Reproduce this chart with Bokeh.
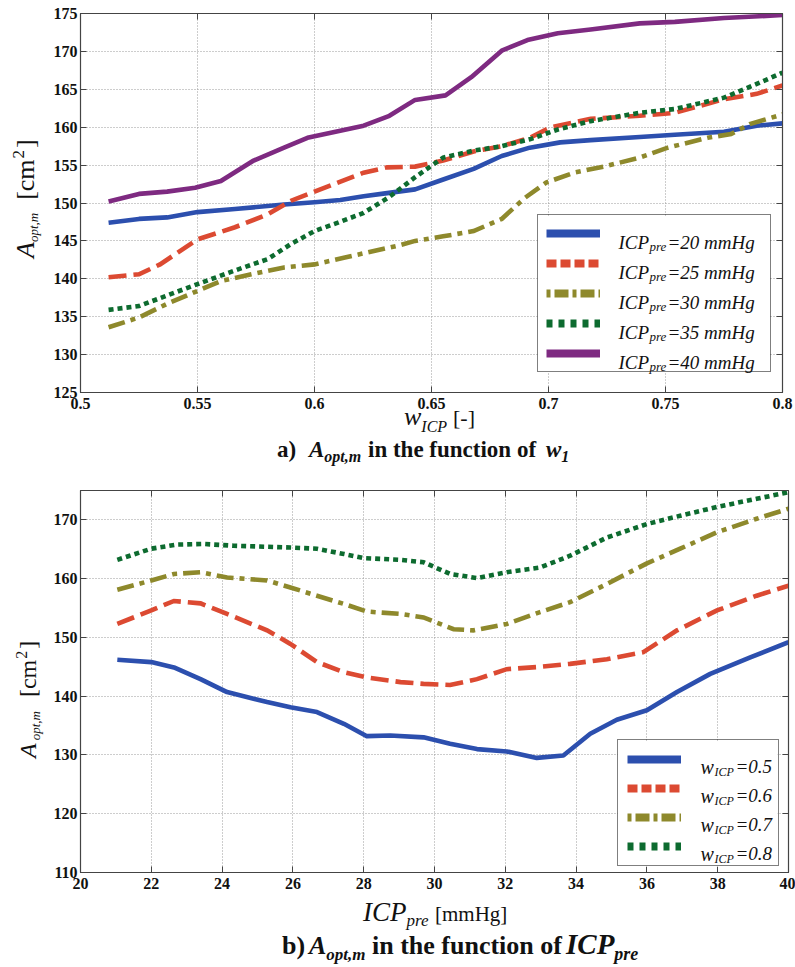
import math
from bokeh.plotting import figure
from bokeh.models import (Range1d, Label, Legend, LegendItem, LinearAxis, Div, BoxAnnotation,
                          SingleIntervalTicker, CustomJSTickFormatter)
from bokeh.layouts import column, row
from bokeh.embed import file_html
from bokeh.resources import INLINE

# ---------------- data: panel a) A_opt,m vs w_ICP ----------------
a_x_20 = [0.512, 0.525, 0.537, 0.55, 0.566, 0.587, 0.6, 0.611, 0.621, 0.631, 0.643, 0.655,
          0.668, 0.680, 0.692, 0.705, 0.718, 0.739, 0.754, 0.775, 0.789, 0.8]
a_y_20 = [147.4, 147.9, 148.1, 148.8, 149.2, 149.8, 150.1, 150.4, 150.9, 151.3, 151.8, 153.1,
          154.5, 156.2, 157.3, 158.0, 158.3, 158.7, 159.0, 159.4, 160.2, 160.5]

a_x_25 = [0.512, 0.525, 0.534, 0.55, 0.566, 0.58, 0.59, 0.6, 0.61, 0.621, 0.631, 0.643,
          0.655, 0.668, 0.680, 0.692, 0.701, 0.718, 0.739, 0.754, 0.775, 0.789, 0.8]
a_y_25 = [140.2, 140.6, 141.9, 145.2, 146.8, 148.5, 150.3, 151.5, 152.7, 154.0, 154.7, 154.8,
          155.6, 156.8, 157.5, 158.6, 160.0, 161.1, 161.5, 161.9, 163.7, 164.4, 165.5]

a_x_30 = [0.512, 0.525, 0.537, 0.55, 0.56, 0.573, 0.587, 0.6, 0.613, 0.623, 0.636, 0.643,
          0.655, 0.668, 0.680, 0.690, 0.699, 0.711, 0.725, 0.739, 0.751, 0.768, 0.778, 0.786, 0.8]
a_y_30 = [133.6, 134.9, 136.7, 138.4, 139.7, 140.6, 141.5, 141.9, 142.8, 143.5, 144.4, 145.0,
          145.6, 146.3, 147.9, 150.7, 152.7, 154.0, 154.9, 156.0, 157.3, 158.6, 159.1, 160.4, 161.7]

a_x_35 = [0.512, 0.525, 0.537, 0.55, 0.566, 0.58, 0.59, 0.6, 0.61, 0.621, 0.632, 0.643,
          0.655, 0.668, 0.680, 0.692, 0.704, 0.718, 0.739, 0.754, 0.775, 0.789, 0.8]
a_y_35 = [135.9, 136.4, 137.8, 139.3, 141.1, 142.6, 144.6, 146.3, 147.4, 148.7, 150.8, 153.4,
          156.0, 156.9, 157.5, 158.4, 159.7, 160.8, 161.9, 162.4, 163.9, 165.7, 167.2]

a_x_40 = [0.512, 0.525, 0.537, 0.549, 0.56, 0.574, 0.587, 0.597, 0.609, 0.621, 0.632, 0.643,
          0.656, 0.667, 0.680, 0.691, 0.704, 0.718, 0.739, 0.754, 0.775, 0.8]
a_y_40 = [150.2, 151.2, 151.5, 152.0, 152.9, 155.6, 157.3, 158.6, 159.4, 160.2, 161.5, 163.6,
          164.2, 166.6, 170.1, 171.5, 172.4, 172.9, 173.7, 173.9, 174.4, 174.8]

a_labels = ["=20 mmHg", "=25 mmHg", "=30 mmHg", "=35 mmHg", "=40 mmHg"]

# ---------------- data: panel b) A_opt,m vs ICP_pre ----------------
b_x_05 = [21.04, 22.0, 22.64, 23.39, 24.14, 25.27, 25.93, 26.68, 27.44, 28.09, 28.75, 29.69,
          30.44, 31.2, 32.04, 32.89, 33.64, 34.4, 35.15, 36.0, 36.85, 37.79, 38.92, 40.0]
b_y_05 = [146.2, 145.8, 144.9, 142.9, 140.7, 139.0, 138.1, 137.3, 135.3, 133.2, 133.3, 133.0,
          131.9, 131.0, 130.6, 129.5, 129.9, 133.6, 136.0, 137.6, 140.7, 143.8, 146.6, 149.2]

b_x_06 = [21.04, 22.0, 22.64, 23.39, 24.14, 25.27, 25.93, 26.68, 27.44, 28.09, 29.04, 29.69,
          30.44, 31.2, 32.04, 32.98, 33.83, 34.87, 35.9, 36.85, 37.98, 39.1, 40.0]
b_y_06 = [152.3, 154.6, 156.2, 155.8, 154.0, 151.2, 148.9, 145.8, 144.1, 143.2, 142.4, 142.1,
          141.9, 142.9, 144.6, 145.0, 145.5, 146.3, 147.5, 151.2, 154.6, 157.1, 158.8]

b_x_07 = [21.04, 22.0, 22.64, 23.39, 24.14, 25.27, 25.93, 26.68, 27.44, 28.09, 29.04, 29.69,
          30.54, 31.1, 32.04, 32.98, 33.83, 34.87, 36.0, 36.94, 37.98, 39.1, 40.0]
b_y_07 = [158.1, 159.7, 160.8, 161.1, 160.2, 159.7, 158.5, 157.1, 155.7, 154.4, 154.0, 153.4,
          151.4, 151.2, 152.3, 154.3, 156.0, 159.1, 162.6, 165.1, 167.9, 170.2, 171.9]

b_x_08 = [21.04, 22.0, 22.73, 23.48, 24.33, 25.93, 26.68, 27.44, 28.0, 29.04, 29.69, 30.44,
          31.2, 32.04, 32.98, 33.83, 34.87, 36.0, 36.94, 37.98, 39.1, 40.0]
b_y_08 = [163.2, 165.1, 165.8, 165.9, 165.6, 165.3, 165.1, 164.2, 163.5, 163.2, 162.8, 160.8,
          160.1, 161.1, 161.9, 163.9, 167.0, 169.3, 170.7, 172.2, 173.6, 174.7]

b_labels = ["=0.5", "=0.6", "=0.7", "=0.8"]

# ---------------- styles ----------------
BLUE, RED, OLIVE, GREEN, PURPLE = "#2c4fae", "#dc4a32", "#8e892c", "#0d6b2f", "#7e2a81"
SERIF = "Liberation Serif"
TXT = "#111111"
LW = 4.6
DASH = {"solid": "solid", "dash": "18 7", "dashdot": "17 6 5 6", "dot": "5 4"}
LEG_DASH = {"solid": "solid", "dash": "10 4", "dashdot": "4 4 14 4", "dot": "6 6"}


def style_fig(p, xint, yint):
    p.background_fill_color = "white"
    p.border_fill_color = "white"
    p.outline_line_color = "#444444"
    p.outline_line_width = 1.2
    for ax in (p.xaxis[0], p.yaxis[0]):
        ax.major_label_text_font = SERIF
        ax.major_label_text_font_style = "bold"
        ax.major_label_text_font_size = "16px"
        ax.major_label_text_color = TXT
        ax.major_tick_in = 6
        ax.major_tick_out = 0
        ax.minor_tick_in = 0
        ax.minor_tick_out = 0
        ax.axis_line_color = "#444444"
        ax.major_tick_line_color = "#444444"
    p.xaxis[0].ticker = SingleIntervalTicker(interval=xint)
    p.yaxis[0].ticker = SingleIntervalTicker(interval=yint)
    p.xaxis[0].major_label_standoff = 5
    p.yaxis[0].major_label_standoff = 3
    for ax, loc, iv in ((LinearAxis(), "right", yint), (LinearAxis(), "above", xint)):
        ax.ticker = SingleIntervalTicker(interval=iv)
        ax.formatter = CustomJSTickFormatter(code="return ''")
        ax.major_label_text_font_size = "0px"
        ax.major_label_standoff = 0
        ax.major_tick_in = 6
        ax.major_tick_out = 0
        ax.minor_tick_in = 0
        ax.minor_tick_out = 0
        ax.axis_line_color = "#444444"
        ax.major_tick_line_color = "#444444"
        p.add_layout(ax, loc)
    p.xgrid.ticker = p.xaxis[0].ticker
    p.ygrid.ticker = p.yaxis[0].ticker
    for g in (p.xgrid[0], p.ygrid[0]):
        g.grid_line_color = "#9a9a9a"
        g.grid_line_dash = "1 2"
        g.grid_line_width = 1


def add_series(p, xs, ys, color, kind):
    join = "round" if kind == "solid" else "miter"
    r = p.line(xs, ys, line_color=color, line_width=LW, line_dash=DASH[kind], line_join=join)
    # hidden proxy with the same data, used only for a thicker legend sample
    proxy = p.line(xs, ys, line_color=color, line_width=8, line_dash=LEG_DASH[kind], visible=False)
    return r, proxy


def make_legend(p, proxies, loc, pad, spacing, standoff, lwidth, n):
    w = 2 * pad + 54 + standoff + lwidth
    h = 2 * pad + n * 20 + (n - 1) * spacing
    p.add_layout(BoxAnnotation(left=loc[0], right=loc[0] + w, bottom=loc[1], top=loc[1] + h,
                               left_units="screen", right_units="screen",
                               top_units="screen", bottom_units="screen",
                               fill_color="white", fill_alpha=1.0, line_color=None,
                               level="annotation"))
    items = [LegendItem(label=" ", renderers=[r]) for r in proxies]
    leg = Legend(items=items, location=loc, padding=pad, spacing=spacing,
                 glyph_width=54, glyph_height=20, label_height=20, label_width=lwidth,
                 label_standoff=standoff, border_line_color="black", border_line_width=1,
                 background_fill_alpha=0.0, inactive_fill_alpha=0.0,
                 label_text_font_size="13px", margin=0)
    p.add_layout(leg, "center")


def in_frame_text(p, fl, fb, X, Y, s, size, style="normal"):
    p.add_layout(Label(x=X - fl, y=fb - Y, x_units="screen", y_units="screen", text=s,
                       text_font=SERIF, text_font_size=f"{size}px", text_font_style=style,
                       text_color=TXT, text_baseline="alphabetic", text_align="left",
                       level="overlay"))


def css(size, style="normal", weight="normal"):
    return (f"font-family:'{SERIF}',serif;font-size:{size}px;font-style:{style};"
            f"font-weight:{weight};fill:{TXT}")


def tspan(s, size, style="normal", weight="normal", x=None, dx=0, dy=0):
    xa = f' x="{x}"' if x is not None else ""
    return f'<tspan{xa} dx="{dx}" dy="{dy}" style="{css(size, style, weight)}">{s}</tspan>'


def svg_line(x, y, spans, rot=False):
    tr = f'transform="translate({x},{y}) rotate(-90)"' if rot else f'x="{x}" y="{y}"'
    return f'<text {tr} style="{css(20)}">{"".join(spans)}</text>'


def svg_div(w, h, pieces):
    html = (f'<svg xmlns="http://www.w3.org/2000/svg" width="{w}" height="{h}" '
            f'style="display:block;overflow:visible">{"".join(pieces)}</svg>')
    return Div(text=html, width=w, height=h, margin=0,
               styles={"overflow": "visible", "padding": "0px"})


# ================= panel a =================
GX = 45  # width of the y-label strip
FL1, FT1, FW1, FH1 = 35, 13, 702, 379
p1 = figure(frame_width=FW1, frame_height=FH1, min_border_left=FL1, min_border_top=FT1,
            min_border_right=750 - FL1 - FW1, min_border_bottom=24,
            x_range=Range1d(0.5, 0.8), y_range=Range1d(125, 175),
            output_backend="svg", toolbar_location=None)
style_fig(p1, 0.05, 5)

ra = [add_series(p1, a_x_20, a_y_20, BLUE, "solid"),
      add_series(p1, a_x_25, a_y_25, RED, "dash"),
      add_series(p1, a_x_30, a_y_30, OLIVE, "dashdot"),
      add_series(p1, a_x_35, a_y_35, GREEN, "dot"),
      add_series(p1, a_x_40, a_y_40, PURPLE, "solid")]
make_legend(p1, [pr for _, pr in ra], (457, 20), 8, 10, 19, 143, 5)

FB1 = FT1 + FH1
for yc, lab in zip([234, 264, 294, 324, 354], a_labels):
    in_frame_text(p1, FL1, FB1, 618 - GX, yc + 8, "ICP", 19, "italic")
    in_frame_text(p1, FL1, FB1, 649 - GX, yc + 12, "pre", 13, "italic")
    in_frame_text(p1, FL1, FB1, 667 - GX, yc + 8, lab, 19, "italic")

ylab1 = svg_div(GX, 416, [svg_line(34, 258, [
    tspan("A", 26, "italic"),
    tspan("opt,m", 13, "italic", dy=4),
    tspan("[cm", 26, dx=13, dy=-4),
    tspan("2", 17, dx=1, dy=-10),
    tspan("]", 26, dx=2, dy=10),
], rot=True)])

Y0 = 416
xlab1 = svg_div(795, 54, [
    svg_line(404, 425 - Y0, [
        tspan("w", 26, "italic"),
        tspan("ICP", 16, "italic", dy=7),
        tspan("[-]", 22, x=453, dy=-7),
    ]),
    svg_line(277, 457 - Y0, [
        tspan("a)", 23, weight="bold"),
        tspan("A", 23, "italic", "bold", x=309),
        tspan("opt,m", 16, "italic", "bold", dy=5),
        tspan("in the function of", 23, weight="bold", x=368, dy=-5),
        tspan("w", 23, "italic", "bold", x=546),
        tspan("1", 16, "italic", "bold", dy=5),
    ]),
])

# ================= panel b =================
OFF = 470
FL2, FT2, FW2, FH2 = 35, 20, 708, 382
p2 = figure(frame_width=FW2, frame_height=FH2, min_border_left=FL2, min_border_top=FT2,
            min_border_right=750 - FL2 - FW2, min_border_bottom=24,
            x_range=Range1d(20, 40), y_range=Range1d(110, 175),
            output_backend="svg", toolbar_location=None)
style_fig(p2, 2, 10)

rb = [add_series(p2, b_x_05, b_y_05, BLUE, "solid"),
      add_series(p2, b_x_06, b_y_06, RED, "dash"),
      add_series(p2, b_x_07, b_y_07, OLIVE, "dashdot"),
      add_series(p2, b_x_08, b_y_08, GREEN, "dot")]
make_legend(p2, [pr for _, pr in rb], (537, 6), 9, 9, 20, 68, 4)

FB2 = FT2 + FH2
for yc, lab in zip([760, 789, 818, 847], b_labels):
    y = yc - OFF
    in_frame_text(p2, FL2, FB2, 700 - GX, y + 6, "w", 20, "italic")
    in_frame_text(p2, FL2, FB2, 714 - GX, y + 11, "ICP", 12, "italic")
    in_frame_text(p2, FL2, FB2, 735 - GX, y + 6, lab, 19, "italic")

ylab2 = svg_div(GX, 426, [svg_line(36, 758 - OFF, [
    tspan("A", 24, "italic"),
    tspan("opt,m", 13, "italic", dx=3, dy=4),
    tspan("[cm", 24, dx=14, dy=-4),
    tspan("2", 16, dx=1, dy=-9),
    tspan("]", 24, dx=2, dy=9),
], rot=True)])

Y1 = 896
xlab2 = svg_div(795, 71, [
    svg_line(363, 921 - Y1, [
        tspan("ICP", 27, "italic"),
        tspan("pre", 17, "italic", dy=5),
        tspan("[mmHg]", 21, x=435, dy=-5),
    ]),
    svg_line(282, 954 - Y1, [
        tspan("b)", 26, weight="bold"),
        tspan("A", 26, "italic", "bold", x=309),
        tspan("opt,m", 17, "italic", "bold", dy=6),
        tspan("in the function of", 26, weight="bold", x=372, dy=-6),
        tspan("ICP", 29, "italic", "bold", x=566),
        tspan("pre", 18, "italic", "bold", dy=6),
    ]),
])

layout = column(row(ylab1, p1, spacing=0), xlab1,
                row(ylab2, p2, spacing=0), xlab2, spacing=0)
open("out.html", "w").write(file_html(layout, INLINE))
